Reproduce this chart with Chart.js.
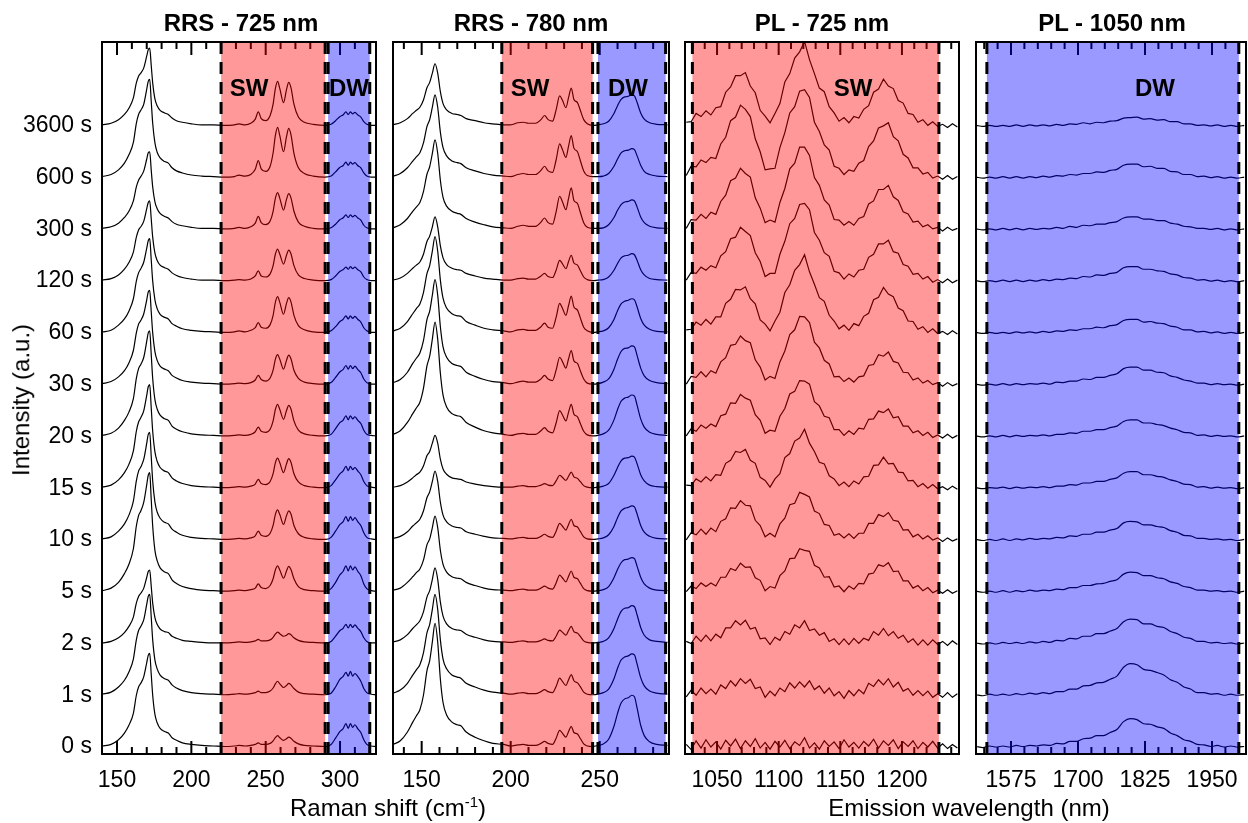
<!DOCTYPE html>
<html><head><meta charset="utf-8">
<script src="https://cdn.jsdelivr.net/npm/chart.js@4.4.1/dist/chart.umd.min.js"></script>
<style>
html,body{margin:0;padding:0;background:#fff;}
#wrap{position:relative;width:1248px;height:823px;overflow:hidden;font-family:"Liberation Sans",Arial,sans-serif;color:#000;}
canvas{position:absolute;left:0;top:0;}
.t{position:absolute;transform:translate(-50%,-50%);white-space:nowrap;line-height:1.15;}
.title{font-weight:bold;font-size:24px;}
.lab{font-weight:bold;font-size:24px;}
.ax{font-size:24px;}
</style></head><body>
<div id="wrap">
<canvas id="c1" width="1248" height="823"></canvas>
<canvas id="c2" width="1248" height="823"></canvas>
<canvas id="c3" width="1248" height="823"></canvas>
<canvas id="c4" width="1248" height="823"></canvas>
<div class="t title" style="left:241px;top:23px">RRS - 725 nm</div>
<div class="t title" style="left:531px;top:23px">RRS - 780 nm</div>
<div class="t title" style="left:822px;top:23px">PL - 725 nm</div>
<div class="t title" style="left:1112px;top:23px">PL - 1050 nm</div>
<div class="t lab" style="left:249px;top:88px">SW</div>
<div class="t lab" style="left:349px;top:88px">DW</div>
<div class="t lab" style="left:530px;top:88px">SW</div>
<div class="t lab" style="left:628px;top:88px">DW</div>
<div class="t lab" style="left:853px;top:88px">SW</div>
<div class="t lab" style="left:1155px;top:88px">DW</div>
<div class="t ax" style="left:388px;top:808px">Raman shift (cm<sup style="font-size:15px;vertical-align:9px;line-height:0">-1</sup>)</div>
<div class="t ax" style="left:969px;top:808px">Emission wavelength (nm)</div>
<div class="t ax" style="left:21px;top:400px;transform:translate(-50%,-50%) rotate(-90deg)">Intensity (a.u.)</div>
</div>
<script>
// ---------- DATA ----------
const TIME_LABELS = ['0 s','1 s','2 s','5 s','10 s','15 s','20 s','30 s','60 s','120 s','300 s','600 s','3600 s'];

// Panel 1: RRS - 725 nm (Raman shift, cm-1)
const RRS725_X = [140,146,151,155,158,161,163,164.5,166,168,170,171,172,173,174,175.5,177,179,182,184.5,187,190,194,200,207,215,222,
 229,232,236,240,243,245,247,250,253,255,256.5,258,259.5,262,264,265.5,267,269,272,276,282,290,
 294,297,300,302,304,305.5,307,308.5,310,312,314,316,318,321,324];
const RRS725_TICKS = [150,160,170,180,190,200,210,220,230,240,250,260,270,280,290,300,310,320];
const RRS725_MAJOR = [150,200,250,300];
const RRS725_Y = [
 [0.02,0.05,0.14,0.27,0.42,0.65,1.0,1.16,1.23,1.36,1.63,1.77,1.81,1.41,1.0,0.63,0.47,0.36,0.3,0.27,0.18,0.13,0.08,0.05,0.03,0.02,0.01,
  0.02,0.03,0.02,0.03,0.05,0.08,0.05,0.05,0.07,0.12,0.18,0.22,0.18,0.13,0.16,0.19,0.17,0.11,0.06,0.03,0.02,0.01,
  0.05,0.17,0.3,0.35,0.45,0.36,0.45,0.38,0.43,0.35,0.28,0.14,0.05,0.02,0.01],
 [0.02,0.06,0.16,0.29,0.45,0.7,1.07,1.25,1.33,1.46,1.76,1.91,1.95,1.52,1.07,0.68,0.51,0.39,0.32,0.29,0.2,0.14,0.09,0.05,0.03,0.02,0.01,
  0.02,0.03,0.02,0.03,0.05,0.08,0.05,0.05,0.08,0.14,0.22,0.27,0.22,0.15,0.19,0.23,0.2,0.13,0.06,0.03,0.02,0.01,
  0.04,0.16,0.31,0.36,0.44,0.37,0.46,0.37,0.42,0.36,0.27,0.13,0.05,0.02,0.01],
 [0.01,0.04,0.11,0.21,0.33,0.51,0.78,0.91,0.97,1.07,1.28,1.39,1.42,1.11,0.78,0.5,0.37,0.28,0.23,0.21,0.14,0.1,0.06,0.04,0.02,0.01,0.01,
  0.02,0.03,0.02,0.03,0.05,0.08,0.05,0.05,0.07,0.12,0.18,0.22,0.19,0.14,0.16,0.19,0.17,0.11,0.06,0.03,0.02,0.01,
  0.04,0.14,0.25,0.29,0.37,0.3,0.37,0.31,0.36,0.29,0.23,0.11,0.04,0.01,0.01],
 [0.02,0.07,0.18,0.35,0.53,0.83,1.27,1.47,1.56,1.73,2.07,2.25,2.3,1.79,1.27,0.8,0.6,0.46,0.38,0.35,0.23,0.16,0.1,0.06,0.03,0.02,0.01,
  0.02,0.03,0.02,0.04,0.07,0.15,0.08,0.06,0.12,0.25,0.42,0.5,0.42,0.26,0.4,0.49,0.43,0.25,0.1,0.04,0.02,0.01,
  0.06,0.18,0.33,0.39,0.5,0.4,0.5,0.42,0.48,0.39,0.31,0.15,0.06,0.02,0.01],
 [0.02,0.06,0.17,0.31,0.48,0.75,1.14,1.33,1.41,1.56,1.87,2.04,2.08,1.62,1.14,0.73,0.54,0.42,0.34,0.31,0.21,0.15,0.09,0.05,0.03,0.02,0.01,
  0.02,0.03,0.02,0.04,0.08,0.17,0.09,0.07,0.13,0.28,0.49,0.58,0.49,0.3,0.47,0.56,0.5,0.28,0.12,0.05,0.02,0.01,
  0.05,0.17,0.3,0.35,0.45,0.36,0.45,0.38,0.43,0.35,0.28,0.14,0.05,0.02,0.01],
 [0.02,0.06,0.16,0.3,0.46,0.72,1.1,1.28,1.36,1.5,1.8,1.96,2.0,1.56,1.1,0.7,0.52,0.4,0.33,0.3,0.2,0.14,0.09,0.05,0.03,0.02,0.01,
  0.02,0.03,0.02,0.04,0.08,0.17,0.09,0.07,0.13,0.28,0.49,0.58,0.49,0.3,0.47,0.57,0.5,0.28,0.12,0.05,0.02,0.01,
  0.05,0.16,0.28,0.33,0.42,0.34,0.42,0.36,0.4,0.33,0.26,0.13,0.05,0.02,0.01],
 [0.02,0.06,0.16,0.31,0.47,0.73,1.12,1.31,1.39,1.53,1.84,2.0,2.04,1.59,1.12,0.71,0.53,0.41,0.34,0.31,0.2,0.14,0.09,0.05,0.03,0.02,0.01,
  0.02,0.03,0.02,0.04,0.09,0.18,0.1,0.08,0.14,0.3,0.52,0.62,0.52,0.33,0.5,0.6,0.53,0.3,0.12,0.05,0.02,0.01,
  0.04,0.15,0.27,0.31,0.4,0.32,0.4,0.34,0.38,0.31,0.25,0.12,0.04,0.02,0.01],
 [0.02,0.06,0.15,0.27,0.42,0.66,1.0,1.17,1.24,1.37,1.64,1.79,1.82,1.42,1.0,0.64,0.47,0.36,0.3,0.27,0.18,0.13,0.08,0.05,0.03,0.02,0.01,
  0.02,0.03,0.02,0.04,0.09,0.18,0.1,0.07,0.13,0.28,0.49,0.58,0.49,0.3,0.47,0.57,0.5,0.28,0.12,0.05,0.02,0.01,
  0.04,0.14,0.25,0.29,0.37,0.3,0.37,0.31,0.36,0.29,0.23,0.11,0.04,0.01,0.01],
 [0.02,0.05,0.15,0.27,0.42,0.66,1.0,1.16,1.24,1.37,1.64,1.78,1.82,1.42,1.0,0.64,0.47,0.36,0.3,0.27,0.18,0.13,0.08,0.05,0.03,0.02,0.01,
  0.02,0.04,0.02,0.05,0.1,0.2,0.11,0.09,0.16,0.34,0.59,0.7,0.59,0.36,0.57,0.68,0.6,0.34,0.14,0.06,0.02,0.01,
  0.04,0.12,0.22,0.26,0.33,0.27,0.33,0.28,0.32,0.26,0.21,0.1,0.04,0.01,0.01],
 [0.02,0.05,0.12,0.23,0.36,0.56,0.85,0.99,1.05,1.16,1.4,1.52,1.55,1.21,0.85,0.54,0.4,0.31,0.26,0.23,0.16,0.11,0.07,0.04,0.02,0.02,0.01,
  0.02,0.03,0.02,0.04,0.1,0.2,0.1,0.08,0.14,0.3,0.52,0.62,0.52,0.33,0.5,0.6,0.53,0.3,0.12,0.05,0.02,0.01,
  0.03,0.1,0.19,0.22,0.27,0.23,0.28,0.24,0.27,0.22,0.18,0.08,0.03,0.01,0.01],
 [0.02,0.05,0.12,0.23,0.35,0.55,0.82,0.95,1.02,1.13,1.36,1.48,1.5,1.15,0.82,0.53,0.4,0.31,0.25,0.22,0.15,0.1,0.07,0.04,0.02,0.02,0.01,
  0.02,0.04,0.02,0.05,0.12,0.25,0.13,0.09,0.16,0.35,0.6,0.71,0.6,0.37,0.58,0.69,0.61,0.35,0.14,0.06,0.02,0.01,
  0.03,0.1,0.19,0.22,0.28,0.23,0.28,0.24,0.27,0.22,0.18,0.08,0.03,0.01,0.01],
 [0.02,0.06,0.15,0.28,0.44,0.68,1.05,1.22,1.3,1.42,1.71,1.86,1.9,1.48,1.05,0.67,0.49,0.38,0.31,0.28,0.19,0.13,0.09,0.05,0.03,0.02,0.01,
  0.02,0.05,0.03,0.06,0.16,0.33,0.17,0.12,0.22,0.48,0.81,0.97,0.81,0.5,0.79,0.95,0.83,0.47,0.19,0.08,0.03,0.01,
  0.03,0.11,0.2,0.23,0.3,0.24,0.3,0.26,0.29,0.23,0.19,0.09,0.03,0.01,0.01],
 [0.02,0.05,0.12,0.22,0.34,0.54,0.83,0.96,1.02,1.12,1.35,1.47,1.5,1.17,0.83,0.52,0.39,0.3,0.25,0.22,0.15,0.1,0.07,0.04,0.02,0.02,0.01,
  0.02,0.04,0.02,0.05,0.13,0.27,0.14,0.1,0.2,0.42,0.72,0.86,0.72,0.45,0.7,0.84,0.74,0.42,0.17,0.07,0.03,0.01,
  0.03,0.1,0.18,0.21,0.27,0.22,0.27,0.23,0.26,0.21,0.17,0.08,0.03,0.01,0.01]
];

// Panel 2: RRS - 780 nm (Raman shift, cm-1)
const RRS780_X = [134,138,142,145,147,149,151,153,154.5,156,157.5,159,160.5,162,164,167,170,172,175,180,185,190,196,
 200,204,207,210,214,217,219,221,223.5,225.5,227.5,229,231,232.5,234,235.5,237.5,239,241,243,246,
 249,252,255,258,260,262,264,266,268,269.5,271,273,275,278,282,288];
const RRS780_TICKS = [140,150,160,170,180,190,200,210,220,230,240,250,260,270,280];
const RRS780_MAJOR = [150,200,250];
const RRS780_Y = [
 [0.05,0.12,0.29,0.48,0.6,0.72,1.0,1.48,1.67,2.03,2.39,2.03,1.31,0.86,0.62,0.48,0.43,0.41,0.29,0.19,0.12,0.07,0.05,
  0.02,0.04,0.05,0.03,0.03,0.07,0.11,0.07,0.05,0.17,0.32,0.27,0.19,0.3,0.4,0.28,0.25,0.17,0.06,0.02,0.01,
  0.03,0.06,0.15,0.4,0.65,0.85,0.93,0.95,1.0,0.97,0.75,0.42,0.22,0.1,0.05,0.03],
 [0.04,0.1,0.23,0.39,0.49,0.59,0.82,1.21,1.37,1.66,1.95,1.66,1.07,0.7,0.51,0.39,0.35,0.33,0.23,0.16,0.1,0.06,0.04,
  0.02,0.04,0.05,0.03,0.03,0.07,0.11,0.07,0.05,0.17,0.33,0.27,0.19,0.3,0.4,0.28,0.24,0.17,0.06,0.02,0.01,
  0.02,0.05,0.12,0.32,0.52,0.68,0.74,0.76,0.8,0.78,0.6,0.34,0.18,0.08,0.04,0.02],
 [0.03,0.07,0.17,0.29,0.36,0.44,0.61,0.9,1.02,1.24,1.46,1.24,0.8,0.53,0.38,0.29,0.26,0.25,0.18,0.12,0.07,0.04,0.03,
  0.02,0.04,0.05,0.03,0.03,0.06,0.09,0.06,0.05,0.14,0.26,0.22,0.16,0.25,0.33,0.23,0.2,0.14,0.05,0.02,0.01,
  0.02,0.04,0.11,0.29,0.47,0.62,0.68,0.69,0.73,0.71,0.55,0.31,0.16,0.07,0.04,0.02],
 [0.03,0.07,0.18,0.29,0.37,0.44,0.61,0.91,1.02,1.24,1.46,1.24,0.8,0.53,0.38,0.29,0.26,0.25,0.18,0.12,0.07,0.04,0.03,
  0.02,0.04,0.05,0.03,0.03,0.07,0.11,0.07,0.05,0.17,0.32,0.27,0.19,0.3,0.4,0.28,0.25,0.17,0.06,0.02,0.01,
  0.02,0.04,0.1,0.27,0.43,0.56,0.62,0.63,0.66,0.64,0.49,0.28,0.15,0.07,0.03,0.02],
 [0.03,0.07,0.16,0.27,0.33,0.4,0.56,0.82,0.93,1.13,1.33,1.13,0.73,0.48,0.35,0.27,0.24,0.23,0.16,0.11,0.07,0.04,0.03,
  0.02,0.04,0.05,0.03,0.03,0.07,0.11,0.07,0.05,0.17,0.32,0.27,0.19,0.3,0.4,0.28,0.25,0.17,0.06,0.02,0.01,
  0.02,0.04,0.1,0.26,0.43,0.56,0.61,0.63,0.66,0.64,0.5,0.28,0.15,0.07,0.03,0.02],
 [0.02,0.05,0.12,0.2,0.26,0.31,0.43,0.63,0.71,0.87,1.02,0.87,0.56,0.37,0.27,0.2,0.18,0.17,0.12,0.08,0.05,0.03,0.02,
  0.02,0.04,0.05,0.03,0.03,0.06,0.09,0.06,0.05,0.14,0.25,0.21,0.15,0.23,0.31,0.22,0.19,0.13,0.05,0.02,0.01,
  0.02,0.04,0.09,0.25,0.4,0.53,0.58,0.59,0.62,0.6,0.47,0.26,0.14,0.06,0.03,0.02],
 [0.04,0.11,0.27,0.44,0.55,0.66,0.93,1.37,1.55,1.88,2.21,1.88,1.22,0.8,0.57,0.44,0.4,0.38,0.27,0.18,0.11,0.07,0.04,
  0.02,0.05,0.06,0.04,0.04,0.11,0.17,0.1,0.07,0.26,0.5,0.42,0.3,0.47,0.62,0.43,0.38,0.26,0.1,0.03,0.01,
  0.02,0.05,0.12,0.32,0.52,0.68,0.74,0.76,0.8,0.78,0.6,0.34,0.18,0.08,0.04,0.02],
 [0.04,0.1,0.24,0.41,0.51,0.61,0.85,1.26,1.42,1.73,2.03,1.73,1.12,0.73,0.53,0.41,0.37,0.35,0.24,0.16,0.1,0.06,0.04,
  0.02,0.05,0.07,0.05,0.05,0.11,0.18,0.11,0.08,0.28,0.53,0.45,0.32,0.5,0.66,0.46,0.41,0.28,0.11,0.03,0.01,
  0.02,0.05,0.11,0.3,0.49,0.64,0.7,0.71,0.75,0.73,0.56,0.32,0.17,0.08,0.04,0.02],
 [0.04,0.09,0.22,0.37,0.47,0.56,0.78,1.15,1.3,1.58,1.86,1.58,1.02,0.67,0.48,0.37,0.33,0.32,0.22,0.15,0.09,0.06,0.04,
  0.02,0.06,0.07,0.05,0.05,0.12,0.19,0.11,0.09,0.3,0.57,0.48,0.34,0.53,0.71,0.5,0.44,0.3,0.11,0.04,0.01,
  0.02,0.04,0.1,0.26,0.43,0.56,0.61,0.63,0.66,0.64,0.5,0.28,0.15,0.07,0.03,0.02],
 [0.02,0.06,0.15,0.25,0.31,0.37,0.52,0.77,0.87,1.05,1.24,1.05,0.68,0.45,0.32,0.25,0.22,0.21,0.15,0.1,0.06,0.04,0.02,
  0.02,0.05,0.06,0.04,0.04,0.1,0.15,0.09,0.07,0.21,0.4,0.34,0.24,0.38,0.5,0.35,0.31,0.21,0.08,0.03,0.01,
  0.02,0.03,0.08,0.21,0.34,0.45,0.49,0.5,0.53,0.51,0.4,0.22,0.12,0.05,0.03,0.02],
 [0.03,0.09,0.21,0.35,0.43,0.52,0.73,1.07,1.21,1.47,1.73,1.47,0.95,0.62,0.45,0.35,0.31,0.29,0.21,0.14,0.09,0.05,0.03,
  0.02,0.06,0.08,0.06,0.06,0.14,0.22,0.13,0.1,0.34,0.64,0.54,0.38,0.6,0.8,0.56,0.5,0.34,0.13,0.04,0.02,
  0.02,0.03,0.09,0.23,0.37,0.48,0.53,0.54,0.57,0.55,0.43,0.24,0.13,0.06,0.03,0.02],
 [0.03,0.08,0.19,0.32,0.4,0.48,0.67,0.99,1.12,1.36,1.6,1.36,0.88,0.58,0.42,0.32,0.29,0.27,0.19,0.13,0.08,0.05,0.03,
  0.02,0.06,0.08,0.06,0.06,0.14,0.22,0.13,0.1,0.34,0.65,0.55,0.39,0.61,0.81,0.57,0.5,0.34,0.13,0.04,0.02,
  0.02,0.03,0.08,0.22,0.36,0.48,0.52,0.53,0.56,0.54,0.42,0.24,0.12,0.06,0.03,0.02],
 [0.02,0.06,0.14,0.24,0.3,0.36,0.5,0.74,0.84,1.02,1.2,1.02,0.66,0.43,0.31,0.24,0.22,0.2,0.14,0.1,0.06,0.04,0.02,
  0.02,0.06,0.07,0.05,0.05,0.12,0.2,0.12,0.09,0.31,0.58,0.5,0.35,0.55,0.73,0.51,0.45,0.31,0.12,0.04,0.01,
  0.02,0.04,0.09,0.24,0.39,0.51,0.56,0.57,0.6,0.58,0.45,0.25,0.13,0.06,0.03,0.02]
];

// Panel 3: PL - 725 nm (emission wavelength, nm)
const PL725_X = [1025,1029,1033,1037,1041,1045,1049,1053,1057,1061,1065,1069,1073,1077,1081,1085,1089,1093,1097,1101,
 1105,1109,1113,1117,1121,1125,1129,1133,1137,1141,1145,1149,1153,1157,1161,1165,1169,1173,1177,1181,
 1185,1189,1193,1197,1201,1205,1209,1213,1217,1221,1225,1229,1233,1237,1241,1245];
const PL725_TICKS = [1030,1040,1050,1060,1070,1080,1090,1100,1110,1120,1130,1140,1150,1160,1170,1180,1190,1200,1210,1220,1230,1240];
const PL725_MAJOR = [1050,1100,1150,1200];
const PL725_Y = [
 [.05,-.05,.12,-.02,.14,.00,.10,-.04,.13,.02,.15,-.03,.12,.01,.16,-.02,.09,-.04,.11,.00,.13,-.03,.10,.03,.18,-.02,.08,-.04,.12,.01,.10,-.03,.14,.00,.09,-.02,.11,.02,.15,-.02,.12,.03,.14,-.03,.10,.01,.12,-.03,.09,.00,.11,-.02,.06,-.03,.05,-.02],
 [-.03,.10,.00,.14,.03,.12,.02,.20,.13,.28,.18,.32,.23,.31,.13,.16,-.04,.08,-.01,.14,.07,.24,.14,.26,.16,.28,.11,.18,.04,.14,-.01,.07,-.06,.09,-.01,.11,.03,.23,.17,.30,.20,.32,.16,.25,.08,.13,.00,.09,-.01,.08,-.04,.03,-.04,.05,-.04,.03],
 [.04,.00,.14,.04,.16,.05,.18,.11,.30,.30,.44,.36,.45,.28,.31,.09,.11,-.02,.12,.06,.23,.18,.36,.30,.44,.25,.28,.16,.21,.04,.09,-.02,.09,-.02,.10,.00,.10,.06,.23,.16,.29,.15,.23,.10,.16,.02,.09,-.03,.07,-.03,.07,-.02,.04,-.04,.05,-.02],
 [.00,.11,.06,.17,.10,.17,.11,.28,.28,.45,.41,.55,.47,.48,.27,.22,.02,.10,.07,.31,.40,.64,.65,.83,.80,.78,.51,.46,.28,.29,.09,.11,.00,.11,.05,.16,.15,.34,.36,.52,.49,.56,.39,.40,.21,.21,.07,.12,.02,.08,-.02,.03,-.03,.04,-.03,.02],
 [.00,.14,.10,.21,.11,.23,.16,.36,.41,.62,.61,.76,.67,.66,.38,.28,.06,.13,.06,.31,.42,.68,.71,.92,.88,.83,.56,.51,.30,.28,.09,.12,.04,.12,.03,.13,.13,.32,.32,.49,.45,.53,.38,.36,.19,.20,.06,.11,.02,.08,.00,.04,-.03,.04,-.02,.02],
 [.06,.05,.18,.12,.22,.14,.26,.25,.48,.54,.71,.69,.75,.54,.48,.21,.15,.02,.18,.28,.59,.67,.91,.97,1.14,.87,.71,.50,.47,.24,.18,.05,.12,.03,.14,.08,.22,.23,.44,.45,.60,.47,.48,.31,.30,.14,.15,.03,.09,.00,.07,-.01,.03,-.03,.04,-.02],
 [.01,.15,.10,.22,.16,.24,.19,.40,.43,.65,.64,.81,.74,.70,.42,.31,.06,.12,.10,.39,.54,.82,.87,1.08,1.07,1.01,.67,.59,.39,.36,.13,.13,.02,.11,.04,.16,.14,.33,.34,.49,.46,.53,.36,.38,.20,.20,.07,.11,.02,.08,-.02,.03,-.03,.04,-.03,.02],
 [.01,.16,.14,.25,.15,.27,.22,.44,.52,.76,.78,.94,.85,.81,.48,.34,.09,.16,.12,.44,.65,.97,1.06,1.32,1.31,1.20,.82,.71,.47,.40,.15,.16,.06,.13,.05,.15,.17,.37,.39,.58,.55,.63,.45,.42,.24,.23,.09,.13,.03,.08,.00,.04,-.03,.04,-.02,.02],
 [.06,.07,.21,.15,.26,.17,.31,.31,.57,.65,.84,.83,.89,.66,.56,.25,.17,.04,.23,.40,.78,.93,1.21,1.32,1.51,1.18,.94,.68,.61,.34,.23,.08,.15,.05,.18,.14,.32,.38,.64,.69,.88,.75,.70,.48,.43,.23,.22,.07,.12,.01,.08,-.01,.03,-.03,.04,-.02],
 [.02,.17,.15,.27,.21,.30,.26,.49,.57,.82,.85,1.04,.96,.88,.55,.38,.09,.15,.15,.52,.77,1.11,1.21,1.48,1.50,1.38,.94,.79,.55,.48,.19,.16,.04,.14,.08,.21,.23,.46,.52,.72,.72,.79,.57,.54,.32,.29,.13,.15,.04,.09,-.02,.03,-.03,.04,-.03,.02],
 [.02,.19,.18,.29,.21,.33,.29,.54,.66,.94,.99,1.18,1.08,1.01,.61,.41,.13,.18,.14,.52,.79,1.17,1.28,1.59,1.59,1.43,1.00,.85,.57,.47,.19,.18,.08,.15,.08,.21,.25,.49,.55,.77,.77,.85,.63,.56,.34,.30,.14,.16,.05,.09,.01,.04,-.03,.04,-.02,.02],
 [.04,.22,.21,.34,.29,.39,.37,.65,.78,1.10,1.17,1.40,1.32,1.18,.75,.50,.15,.17,.18,.58,.87,1.25,1.37,1.67,1.70,1.55,1.07,.89,.63,.53,.22,.18,.06,.15,.12,.28,.33,.60,.71,.96,1.00,1.06,.79,.71,.45,.38,.19,.19,.07,.10,-.01,.03,-.03,.04,-.03,.02],
 [.07,.08,.24,.18,.29,.21,.35,.37,.65,.75,.97,.97,1.03,.77,.64,.30,.19,.06,.24,.43,.85,1.01,1.31,1.43,1.63,1.28,1.01,.73,.66,.37,.25,.09,.16,.06,.18,.15,.32,.39,.65,.71,.90,.77,.72,.49,.44,.24,.22,.07,.12,.01,.08,-.01,.03,-.03,.04,-.02]
];

// Panel 4: PL - 1050 nm (emission wavelength, nm)
const PL1050_X = [1510,1522.5,1535,1547.5,1560,1572.5,1585,1597.5,1610,1622.5,1635,1647.5,1660,1672.5,1685,1697.5,1710,1722.5,1735,1747.5,
 1760,1772.5,1785,1797.5,1810,1822.5,1835,1847.5,1860,1872.5,1885,1897.5,1910,1922.5,1935,1947.5,1960,1972.5,1985,1997.5,2010];
const PL1050_TICKS = [1525,1550,1575,1600,1625,1650,1675,1700,1725,1750,1775,1800,1825,1850,1875,1900,1925,1950,1975,2000];
const PL1050_MAJOR = [1575,1700,1825,1950];
const PL1050_Y = [
 [.01,-.01,.02,0,.02,0,.03,.01,.03,.02,.04,.03,.07,.06,.11,.11,.16,.17,.22,.22,.28,.34,.49,.55,.53,.45,.44,.39,.36,.27,.22,.14,.11,.05,.04,.01,.03,0,.02,0,.01],
 [.01,-.01,.02,0,.02,0,.03,.01,.04,.02,.05,.03,.07,.07,.12,.12,.18,.19,.24,.25,.31,.37,.54,.61,.59,.5,.48,.44,.39,.3,.25,.16,.12,.05,.05,.02,.03,0,.02,0,.01],
 [.01,-.01,.01,-.01,.02,0,.02,0,.03,.01,.04,.02,.06,.05,.1,.09,.14,.14,.19,.19,.24,.29,.42,.47,.46,.38,.38,.33,.31,.23,.19,.12,.1,.04,.04,.01,.02,0,.01,-.01,.01],
 [.01,-.01,.01,-.01,.02,-.01,.02,0,.03,.01,.03,.02,.05,.04,.08,.08,.12,.12,.15,.16,.2,.23,.34,.38,.37,.31,.31,.27,.25,.19,.16,.1,.08,.03,.03,.01,.02,0,.01,-.01,.01],
 [.01,-.01,.01,-.01,.02,-.01,.02,0,.03,.01,.03,.02,.05,.04,.08,.07,.11,.11,.15,.15,.19,.22,.33,.36,.35,.29,.29,.26,.24,.18,.15,.09,.08,.03,.03,.01,.02,0,.01,-.01,.01],
 [.01,-.01,.01,0,.02,-.01,.02,0,.02,.01,.03,.01,.04,.04,.07,.06,.1,.1,.13,.13,.17,.2,.29,.32,.32,.26,.26,.23,.21,.16,.13,.08,.07,.02,.03,0,.02,0,.01,-.01,.01],
 [.01,-.01,.01,-.01,.02,-.01,.02,0,.02,.01,.03,.01,.04,.04,.07,.06,.1,.1,.13,.13,.17,.2,.29,.32,.32,.26,.26,.23,.21,.16,.13,.08,.07,.02,.03,0,.02,0,.01,-.01,.01],
 [.01,-.01,.01,-.01,.02,-.01,.02,0,.02,.01,.03,.01,.05,.04,.07,.07,.11,.1,.14,.14,.18,.21,.31,.34,.34,.28,.28,.24,.23,.17,.14,.09,.07,.03,.03,0,.02,0,.01,-.01,.01],
 [.01,-.01,.01,-.01,.01,-.01,.02,0,.02,0,.03,.01,.04,.03,.06,.05,.08,.08,.11,.1,.14,.16,.24,.26,.26,.21,.22,.19,.18,.13,.11,.06,.06,.02,.03,0,.02,-.01,.01,-.01,.01],
 [.01,-.01,.01,-.01,.02,-.01,.02,-.01,.02,0,.03,.01,.04,.03,.06,.05,.09,.08,.12,.11,.15,.17,.26,.28,.28,.23,.23,.2,.19,.14,.12,.07,.06,.02,.03,0,.02,-.01,.01,-.01,.01],
 [.01,-.01,.01,-.01,.02,-.01,.02,-.01,.02,0,.02,.01,.04,.02,.06,.04,.08,.07,.1,.1,.13,.15,.22,.24,.24,.2,.2,.17,.17,.12,.1,.06,.05,.02,.02,0,.02,-.01,.01,-.01,.01],
 [.01,-.01,.01,-.01,.02,-.01,.02,-.01,.02,0,.03,.01,.04,.03,.06,.05,.08,.08,.11,.1,.14,.16,.24,.26,.26,.21,.22,.18,.18,.12,.11,.06,.06,.02,.03,0,.02,-.01,.01,-.01,.01],
 [.01,-.01,.01,-.01,.01,-.01,.02,-.01,.02,0,.02,0,.03,.01,.04,.03,.06,.04,.07,.06,.09,.1,.15,.16,.17,.13,.14,.11,.12,.08,.08,.04,.04,.01,.02,0,.02,-.01,.01,-.01,.01]
];

// ---------- CHARTS ----------
const FONT = '"Liberation Sans", Arial, Helvetica, sans-serif';
const PLOT_TOP = 42, PLOT_BOTTOM = 754, W = 1248, H = 823;
const XAXIS_H = 50;
const RED = 'rgba(255,0,0,0.4)', BLUE = 'rgba(0,0,255,0.4)';

const PANELS = [
 {id:'c1', left:102, right:376, xmin:139.9, xmax:324.2, X:RRS725_X, Y:RRS725_Y, ticks:RRS725_TICKS, major:RRS725_MAJOR,
  regions:[[220,290,RED],[292,320,BLUE]], smooth:true, yLabels:true},
 {id:'c2', left:393, right:669, xmin:133.9, xmax:288.9, X:RRS780_X, Y:RRS780_Y, ticks:RRS780_TICKS, major:RRS780_MAJOR,
  regions:[[195,246,RED],[249,287,BLUE]], smooth:true, yLabels:false},
 {id:'c3', left:685, right:959, xmin:1024, xmax:1246.3, X:PL725_X, Y:PL725_Y, ticks:PL725_TICKS, major:PL725_MAJOR,
  regions:[[1030,1230,RED]], smooth:false, yLabels:false},
 {id:'c4', left:976, right:1246, xmin:1509.7, xmax:2013.4, X:PL1050_X, Y:PL1050_Y, ticks:PL1050_TICKS, major:PL1050_MAJOR,
  regions:[[1530,2000,BLUE]], smooth:true, yLabels:false}
];

function makeDeco(p){
  return {
    id:'deco_'+p.id,
    beforeDatasetsDraw(chart){
      const {ctx, chartArea:a, scales:{x}} = chart;
      ctx.save(); ctx.strokeStyle = '#000'; ctx.lineWidth = 2;
      p.ticks.forEach(v => {
        const px = x.getPixelForValue(v);
        const L = p.major.includes(v) ? 13 : 7;
        ctx.beginPath();
        ctx.moveTo(px, a.top); ctx.lineTo(px, a.top + L);
        ctx.moveTo(px, a.bottom); ctx.lineTo(px, a.bottom - L);
        ctx.stroke();
      });
      ctx.restore();
    },
    afterDatasetsDraw(chart){
      const {ctx, chartArea:a, scales:{x}} = chart;
      ctx.save();
      p.regions.forEach(([x0,x1,c]) => {
        const p0 = x.getPixelForValue(x0), p1 = x.getPixelForValue(x1);
        ctx.fillStyle = c; ctx.fillRect(p0, a.top, p1 - p0, a.bottom - a.top);
      });
      ctx.strokeStyle = '#000'; ctx.lineWidth = 3; ctx.setLineDash([12,8]);
      p.regions.forEach(([x0,x1]) => {
        [x0,x1].forEach(v => {
          const px = x.getPixelForValue(v);
          ctx.beginPath(); ctx.moveTo(px, a.top); ctx.lineTo(px, a.bottom); ctx.stroke();
        });
      });
      ctx.setLineDash([]); ctx.lineWidth = 2;
      ctx.strokeRect(a.left, a.top, a.right - a.left, a.bottom - a.top);
      ctx.restore();
    }
  };
}

PANELS.forEach(p => {
  const datasets = p.Y.map((row, i) => {
    if (row.length !== p.X.length) console.error('length mismatch', p.id, i, row.length, p.X.length);
    const n = Math.min(row.length, p.X.length);
    const data = [];
    for (let j = 0; j < n; j++) data.push({x: p.X[j], y: i + row[j]});
    return {
      label: TIME_LABELS[i], data,
      borderColor:'#000', borderWidth:1.2, pointRadius:0, fill:false,
      tension: 0, cubicInterpolationMode: p.smooth ? 'monotone' : 'default'
    };
  });
  const padLeft = p.yLabels ? 0 : p.left;
  const yW = p.yLabels ? p.left : 0;
  new Chart(document.getElementById(p.id), {
    type:'line',
    data:{datasets},
    options:{
      responsive:false, animation:false, devicePixelRatio:1, events:[],
      layout:{padding:{left:padLeft, right:W - p.right, top:PLOT_TOP, bottom:H - PLOT_BOTTOM - XAXIS_H}},
      plugins:{legend:{display:false}, tooltip:{enabled:false}, title:{display:false}},
      scales:{
        x:{type:'linear', position:'bottom', min:p.xmin, max:p.xmax,
          grid:{display:false, drawTicks:false}, border:{display:false},
          afterBuildTicks: s => { s.ticks = p.ticks.map(v => ({value:v})); },
          afterFit: s => { s.height = XAXIS_H; s.paddingLeft = 0; s.paddingRight = 0; s.paddingTop = 0; s.paddingBottom = 0; },
          ticks:{autoSkip:false, maxRotation:0, minRotation:0, padding:13, color:'#000',
            font:{family:FONT, size:23}, callback: v => p.major.includes(v) ? String(v) : ''}
        },
        y:{type:'linear', position:'left', min:-0.135, max:13.62, display:p.yLabels,
          grid:{display:false, drawTicks:false}, border:{display:false},
          afterBuildTicks: s => { s.ticks = TIME_LABELS.map((t,i) => ({value:i})); },
          afterFit: s => { s.width = yW; s.paddingTop = 0; s.paddingBottom = 0; s.paddingLeft = 0; s.paddingRight = 0; },
          ticks:{autoSkip:false, padding:10, color:'#000', font:{family:FONT, size:23},
            callback: v => (TIME_LABELS[v] !== undefined ? TIME_LABELS[v] : '')}
        }
      }
    },
    plugins:[makeDeco(p)]
  });
});
</script>
</body></html>
